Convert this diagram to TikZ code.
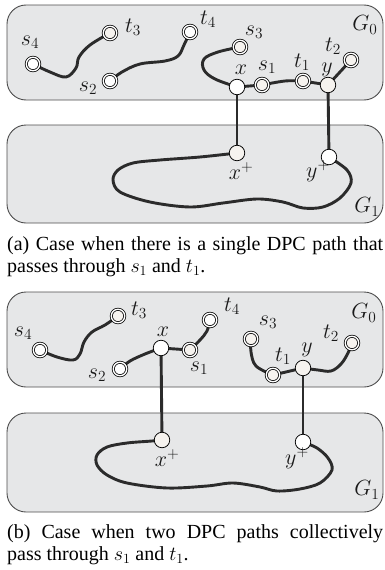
\RequirePackage{fix-cm}
\documentclass[tikz,border=0pt]{standalone}
\usepackage{fontspec}
\setmainfont{Liberation Serif}
\usetikzlibrary{calc}
\definecolor{boxfill}{HTML}{E6E7E8}
\definecolor{boxline}{HTML}{4D4D4D}
\definecolor{wirecol}{HTML}{2B2B2B}
\definecolor{beige}{HTML}{F6F3EF}
\pgfdeclarelayer{back}
\pgfdeclarelayer{mid}
\pgfsetlayers{back,mid,main}
\tikzset{
  gbox/.style={draw=boxline, fill=boxfill, rounded corners=19pt, line width=0.9pt},
  dnode/.style={circle, draw=black, line width=0.75pt, double=white, double distance=1.4pt, fill=white, inner sep=0pt, minimum size=13.5pt},
  bnode/.style={dnode, fill=beige},
  snode/.style={circle, draw=black, line width=0.75pt, fill=white, inner sep=0pt, minimum size=15.5pt},
  wire/.style={line width=2.9pt, draw=wirecol, line cap=round},
  lab/.style={font=\fontsize{22}{24}\selectfont, inner sep=0pt, text=black!90},
  capt/.style={font=\fontsize{20}{22}\selectfont, inner sep=0pt, anchor=base west},
}
\begin{document}
\begin{tikzpicture}[x=1pt, y=-1pt]
\useasboundingbox (0,0) rectangle (385,570);
% ---------- boxes
\begin{pgfonlayer}{back}
\draw[gbox] (7,5) rectangle (383,100);
\draw[gbox] (7,125) rectangle (383,223);
\draw[gbox] (7,292) rectangle (383,387);
\draw[gbox] (7,413) rectangle (383,512);
\end{pgfonlayer}
% ---------- panel (a) nodes
\node[dnode] (as4) at (33,64) {};
\node[bnode] (at3) at (110,33) {};
\node[dnode] (as2) at (110,81) {};
\node[dnode] (at4) at (190,32) {};
\node[bnode] (as3) at (240,47) {};
\node[snode] (ax) at (237,87) {};
\node[bnode] (as1) at (262,85) {};
\node[bnode] (at1) at (303,81) {};
\node[snode, fill=beige] (ay) at (328,85) {};
\node[bnode] (at2) at (351,60) {};
\node[snode, fill=beige] (axp) at (237,153) {};
\node[snode] (ayp) at (329,157) {};
% labels (a)
\node[lab] at (30,42) {$s_4$};
\node[lab] at (133,27) {$t_3$};
\node[lab] at (88,88) {$s_2$};
\node[lab] at (208,19) {$t_4$};
\node[lab] at (254,32) {$s_3$};
\node[lab] at (241,70) {$x$};
\node[lab] at (267,67) {$s_1$};
\node[lab] at (302,62) {$t_1$};
\node[lab] at (327,70) {$y$};
\node[lab] at (333,46) {$t_2$};
\node[lab] at (365,25) {$G_0$};
\node[lab] at (241,171) {$x^+$};
\node[lab] at (318,171) {$y^+$};
\node[lab] at (367,207) {$G_1$};
% wires (a)
\begin{pgfonlayer}{mid}
\draw[wire] plot[smooth, tension=0.6] coordinates {(as4) (50,72) (66,77) (76,68) (79,57) (90,45) (at3)};
\draw[wire] plot[smooth, tension=0.6] coordinates {(as2) (122,72) (140,64) (165,61) (178,56) (184,45) (at4)};
\draw[wire] plot[smooth, tension=0.6] coordinates {(as3) (218,52) (204,59) (204,70) (215,79) (ax)};
\draw[wire] (ax) -- (as1);
\draw[wire] plot[smooth, tension=0.6] coordinates {(as1) (285,81) (at1)};
\draw[wire] (at1) -- (ay);
\draw[wire] (ay) -- (at2);
\draw[wire] (ax) -- (axp);
\draw[wire] (ay) -- (ayp);
\draw[wire] plot[smooth, tension=0.55] coordinates {(axp) (200,157) (160,160) (133,163) (118,170) (113,180) (120,192) (150,202) (190,207) (223,203) (257,199) (283,202) (303,208) (323,207) (340,198) (351,183) (347,170) (ayp)};
\end{pgfonlayer}
% ---------- panel (b) nodes
\node[dnode] (bs4) at (40,350) {};
\node[bnode] (bt3) at (118,316) {};
\node[dnode] (bs2) at (120,369) {};
\node[snode] (bx) at (161,348) {};
\node[bnode] (bs1) at (190,350) {};
\node[dnode] (bt4) at (210,320) {};
\node[bnode] (bs3) at (251,339) {};
\node[bnode] (bt1) at (273,375) {};
\node[snode, fill=beige] (by) at (303,368) {};
\node[bnode] (bt2) at (352,343) {};
\node[snode, fill=beige] (bxp) at (162,440) {};
\node[snode] (byp) at (303,442) {};
% labels (b)
\node[lab] at (23,333) {$s_4$};
\node[lab] at (139,310) {$t_3$};
\node[lab] at (97,375) {$s_2$};
\node[lab] at (163,332) {$x$};
\node[lab] at (199,368) {$s_1$};
\node[lab] at (232,306) {$t_4$};
\node[lab] at (268,322) {$s_3$};
\node[lab] at (283,356) {$t_1$};
\node[lab] at (307,350) {$y$};
\node[lab] at (331,333) {$t_2$};
\node[lab] at (364,313) {$G_0$};
\node[lab] at (167,458) {$x^+$};
\node[lab] at (297,458) {$y^+$};
\node[lab] at (367,490) {$G_1$};
% wires (b)
\begin{pgfonlayer}{mid}
\draw[wire] plot[smooth, tension=0.6] coordinates {(bs4) (57,357) (73,360) (80,354) (84,342) (92,332) (105,325) (bt3)};
\draw[wire] plot[smooth, tension=0.6] coordinates {(bs2) (130,361) (145,354) (bx)};
\draw[wire] (bx) -- (bs1);
\draw[wire] plot[smooth, tension=0.6] coordinates {(bs1) (200,340) (207,331) (bt4)};
\draw[wire] plot[smooth, tension=0.6] coordinates {(bs3) (251,352) (256,366) (bt1)};
\draw[wire] (bt1) -- (by);
\draw[wire] plot[smooth, tension=0.6] coordinates {(by) (318,370) (331,371) (341,364) (348,353) (bt2)};
\draw[wire] (bx) -- (bxp);
\draw[wire] (by) -- (byp);
\draw[wire] plot[smooth, tension=0.55] coordinates {(bxp) (152,441) (127,443) (107,447) (97,455) (97,465) (107,475) (127,483) (167,488) (207,486) (233,483) (260,487) (277,491) (300,489) (320,483) (332,470) (328,458) (317,448) (byp)};
\end{pgfonlayer}
% ---------- captions
\node[capt] (capa1) at (7,250) {\makebox[376pt][s]{(a) Case when there is a single DPC path that}};
\node[capt] (capa2) at (7,272) {passes through $s_1$ and $t_1$.};
\node[capt] (capb1) at (7,538) {\makebox[376pt][s]{(b) Case when two DPC paths collectively}};
\node[capt] (capb2) at (7,560) {pass through $s_1$ and $t_1$.};
\end{tikzpicture}
\end{document}
